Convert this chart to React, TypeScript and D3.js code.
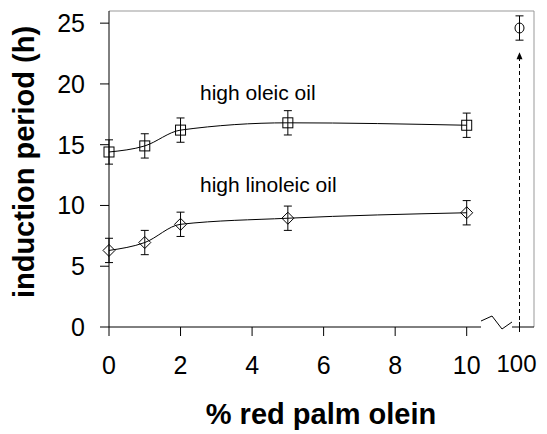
import React from 'react';
import * as d3 from 'd3';

// % red palm olein
const olein = [0, 1, 2, 5, 10];
// induction period (h), mean and error
const highOleic = [14.4, 14.9, 16.2, 16.8, 16.6];
const highOleicErr = [1.0, 1.0, 1.0, 1.0, 1.0];
const highLinoleic = [6.3, 6.95, 8.45, 8.95, 9.4];
const highLinoleicErr = [1.0, 1.0, 1.0, 1.0, 1.0];
// pure red palm olein (100 %)
const pureX = 100;
const pureValue = 24.6;
const pureErr = 1.0;

const xTicks = [0, 2, 4, 6, 8, 10];
const yTicks = [0, 5, 10, 15, 20, 25];

const FONT = '"Liberation Sans", Arial, sans-serif';

const App = () => {
  const width = 547;
  const height = 434;
  const left = 109;
  const right = 534;
  const top = 11;
  const bottom = 327;

  const x = d3.scaleLinear().domain([0, 10]).range([left, 466.7]);
  // separate segment after the axis break, only holds 100
  const xPure = d3.scaleLinear().domain([100, 110]).range([519.5, 555]);
  const y = d3.scaleLinear().domain([0, 26]).range([bottom, top]);

  const line = d3.line<number>()
    .x((d, i) => x(olein[i]))
    .y(d => y(d))
    .curve(d3.curveMonotoneX);

  const breakStart = x(10.4);
  const zig = [
    [breakStart, bottom - 6],
    [breakStart + 11, bottom - 11],
    [breakStart + 21, bottom + 2],
    [breakStart + 31, bottom - 5],
  ];

  const errBar = (cx: number, v: number, e: number, key: string) => (
    <g key={key} stroke="#000" strokeWidth={1}>
      <line x1={cx} x2={cx} y1={y(v - e)} y2={y(v + e)} />
      <line x1={cx - 4} x2={cx + 4} y1={y(v - e)} y2={y(v - e)} />
      <line x1={cx - 4} x2={cx + 4} y1={y(v + e)} y2={y(v + e)} />
    </g>
  );

  const px = xPure(pureX);
  const arrowTip = y(pureValue - pureErr) + 12;

  return (
    <svg width={width} height={height} style={{ position: 'absolute', left: 0, top: 0, background: '#fff' }}
      fontFamily={FONT}>
      {/* frame */}
      <line x1={left} x2={right} y1={top} y2={top} stroke="#999" />
      <line x1={right} x2={right} y1={top} y2={bottom} stroke="#999" />

      {/* y axis */}
      <line x1={left} x2={left} y1={top} y2={bottom} stroke="#000" />
      {yTicks.map(t => (
        <g key={'y' + t}>
          <line x1={left - 9} x2={left} y1={y(t)} y2={y(t)} stroke="#000" />
          <text x={85} y={y(t)} dy="0.36em" textAnchor="end" fontSize={25}>{t}</text>
        </g>
      ))}

      {/* x axis with break */}
      <line x1={left} x2={breakStart} y1={bottom} y2={bottom} stroke="#000" />
      <polyline points={zig.map(p => p.join(',')).join(' ')} fill="none" stroke="#000" />
      <line x1={zig[3][0]} x2={right} y1={bottom} y2={bottom} stroke="#000" />
      {xTicks.map(t => (
        <g key={'x' + t}>
          <line x1={x(t)} x2={x(t)} y1={bottom} y2={bottom + 9} stroke="#000" />
          <text x={x(t)} y={374} textAnchor="middle" fontSize={25}>{t}</text>
        </g>
      ))}
      <line x1={px} x2={px} y1={bottom - 5} y2={bottom + 5} stroke="#000" />
      <text x={px - 3} y={372} textAnchor="middle" fontSize={24}>{pureX}</text>

      {/* curves */}
      <path d={line(highOleic) || ''} fill="none" stroke="#000" strokeWidth={1} />
      <path d={line(highLinoleic) || ''} fill="none" stroke="#000" strokeWidth={1} />

      {/* error bars + markers */}
      {highOleic.map((v, i) => errBar(x(olein[i]), v, highOleicErr[i], 'oe' + i))}
      {highLinoleic.map((v, i) => errBar(x(olein[i]), v, highLinoleicErr[i], 'le' + i))}
      {highOleic.map((v, i) => (
        <rect key={'os' + i} x={x(olein[i]) - 5} y={y(v) - 5} width={10} height={10}
          fill="none" stroke="#000" />
      ))}
      {highLinoleic.map((v, i) => {
        const cx = x(olein[i]);
        const cy = y(v);
        return (
          <polygon key={'ld' + i}
            points={`${cx},${cy - 6} ${cx + 6},${cy} ${cx},${cy + 6} ${cx - 6},${cy}`}
            fill="none" stroke="#000" />
        );
      })}

      {/* 100 % point */}
      {errBar(px, pureValue, pureErr, 'pure')}
      <ellipse cx={px} cy={y(pureValue)} rx={4.5} ry={5} fill="none" stroke="#000" />

      {/* dashed arrow */}
      <line x1={px} x2={px} y1={bottom} y2={arrowTip + 6} stroke="#000" strokeDasharray="4,3" />
      <polygon points={`${px},${arrowTip} ${px - 3},${arrowTip + 7} ${px + 3},${arrowTip + 7}`} fill="#000" />

      {/* series labels */}
      <text x={200} y={100} fontSize={21}>high oleic oil</text>
      <text x={200} y={192} fontSize={21}>high linoleic oil</text>

      {/* axis titles */}
      <text x={321} y={424} textAnchor="middle" fontSize={29} fontWeight="bold">% red palm olein</text>
      <text transform={`translate(34,162) rotate(-90)`} textAnchor="middle"
        fontSize={29} fontWeight="bold">induction period (h)</text>
    </svg>
  );
};

export default App;
